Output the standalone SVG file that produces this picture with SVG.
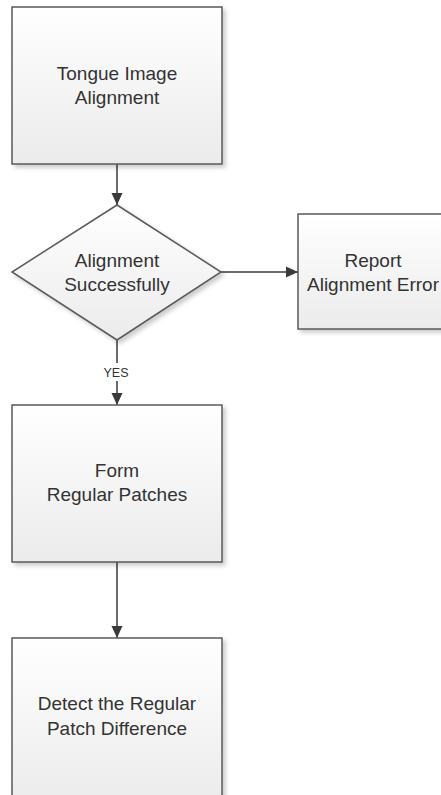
<svg xmlns="http://www.w3.org/2000/svg" width="441" height="795" viewBox="0 0 441 795">
<defs>
<linearGradient id="g" x1="0" y1="0" x2="0" y2="1">
<stop offset="0" stop-color="#ffffff"/>
<stop offset="1" stop-color="#ebebeb"/>
</linearGradient>
<filter id="sh" x="-10%" y="-10%" width="130%" height="130%">
<feGaussianBlur in="SourceAlpha" stdDeviation="2"/>
<feOffset dx="3" dy="3" result="b"/>
<feComponentTransfer><feFuncA type="linear" slope="0.2"/></feComponentTransfer>
<feMerge><feMergeNode/><feMergeNode in="SourceGraphic"/></feMerge>
</filter>
<marker id="ah" viewBox="0 0 12 12" refX="12" refY="6" markerWidth="12" markerHeight="12" markerUnits="userSpaceOnUse" orient="auto">
<path d="M0,0.5 L12,6 L0,11.5 Z" fill="#3a3a3a"/>
</marker>
<style>
.n{fill:url(#g);stroke:#5a5a5a;stroke-width:1.5;filter:url(#sh)}
.t{font-family:"Liberation Sans",Arial,sans-serif;font-size:19px;fill:#333;text-anchor:middle}
.c{stroke:#3a3a3a;stroke-width:1.5;fill:none}
.l{font-family:"Liberation Sans",Arial,sans-serif;font-size:12.5px;fill:#333;text-anchor:middle}
</style>
</defs>
<rect width="441" height="795" fill="#fff"/>
<g id="connectors">
<path class="c" d="M117,164 V205" marker-end="url(#ah)"/>
<path class="c" d="M221,272 H298" marker-end="url(#ah)"/>
<path class="c" d="M117,340 V363 M117,381 V405" marker-end="url(#ah)"/>
<text class="l" x="116" y="377">YES</text>
<path class="c" d="M117,562 V638" marker-end="url(#ah)"/>
</g>
<g id="n1">
<rect class="n" x="12" y="7" width="210" height="157"/>
<text class="t" x="117" y="80">Tongue Image</text>
<text class="t" x="117" y="104">Alignment</text>
</g>
<g id="n2">
<polygon class="n" points="117,205 221,272 117,340 12,272"/>
<text class="t" x="117" y="267">Alignment</text>
<text class="t" x="117" y="291">Successfully</text>
</g>
<g id="n3">
<rect class="n" x="298" y="214" width="160" height="115"/>
<text class="t" x="373" y="267">Report</text>
<text class="t" x="373" y="291">Alignment Error</text>
</g>
<g id="n4">
<rect class="n" x="12" y="405" width="210" height="157"/>
<text class="t" x="117" y="477">Form</text>
<text class="t" x="117" y="501">Regular Patches</text>
</g>
<g id="n5">
<rect class="n" x="12" y="638" width="210" height="170"/>
<text class="t" x="117" y="710">Detect the Regular</text>
<text class="t" x="117" y="735">Patch Difference</text>
</g>
</svg>
